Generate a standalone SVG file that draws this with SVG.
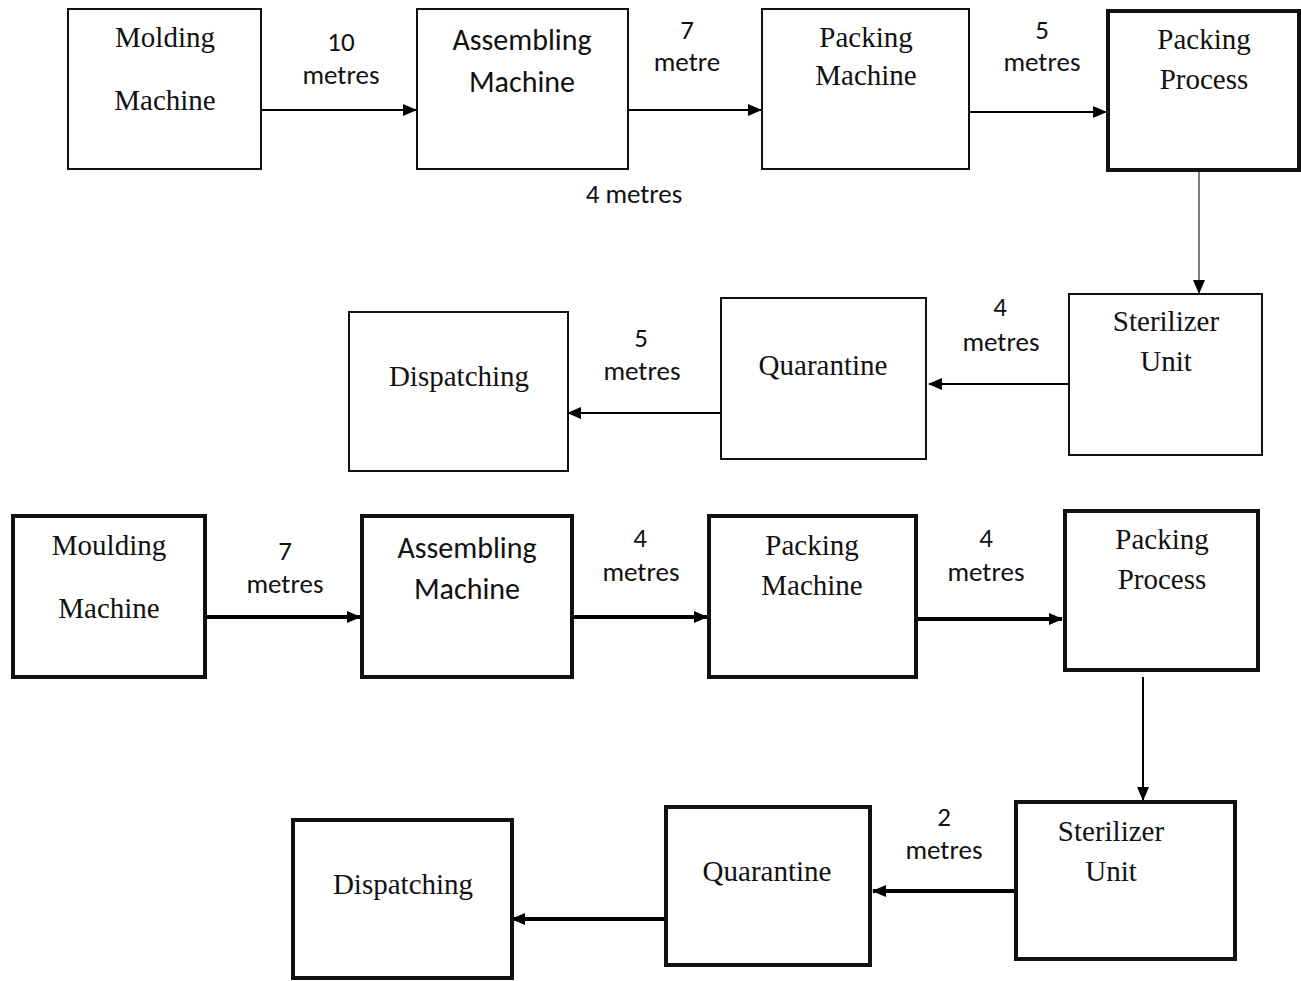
<svg xmlns="http://www.w3.org/2000/svg" width="1301" height="981" viewBox="0 0 1301 981">
<defs>
<marker id="ah" markerUnits="userSpaceOnUse" markerWidth="14" markerHeight="12" refX="13" refY="6" orient="auto">
<path d="M0,0 L14,6 L0,12 Z" fill="#000"/>
</marker>
<style>
.b{fill:#fff;stroke:#111;stroke-width:2}
.bt{fill:#fff;stroke:#111;stroke-width:4}
.s{font-family:"Times New Roman","Liberation Serif",serif;font-size:29px;fill:#111;text-anchor:middle}
.a{font-family:Calibri,"Liberation Sans",Arial,sans-serif;font-size:27px;fill:#111;text-anchor:middle}
.ab{font-family:Calibri,"Liberation Sans",Arial,sans-serif;font-size:30px;fill:#111;text-anchor:middle}
.c{fill:none;stroke:#000;stroke-width:2}
.ct{fill:none;stroke:#000;stroke-width:4}
</style>
</defs>
<rect width="1301" height="981" fill="#fff"/>
<g id="connectors">
<line class="c" x1="261" y1="110" x2="416" y2="110" marker-end="url(#ah)"/>
<line class="c" x1="628" y1="110" x2="761" y2="110" marker-end="url(#ah)"/>
<line class="c" x1="969" y1="112" x2="1106" y2="112" marker-end="url(#ah)"/>
<line x1="1199" y1="172" x2="1199" y2="293" stroke="#000" stroke-width="1" marker-end="url(#ah)"/>
<line class="c" x1="1069" y1="384" x2="929" y2="384" marker-end="url(#ah)"/>
<line class="c" x1="721" y1="413" x2="568" y2="413" marker-end="url(#ah)"/>
<line class="ct" x1="205" y1="617" x2="360" y2="617" marker-end="url(#ah)"/>
<line class="ct" x1="572" y1="617" x2="707" y2="617" marker-end="url(#ah)"/>
<line class="ct" x1="916" y1="619" x2="1062" y2="619" marker-end="url(#ah)"/>
<line x1="1143" y1="677" x2="1143" y2="800" stroke="#000" stroke-width="2" marker-end="url(#ah)"/>
<line class="ct" x1="1015" y1="891" x2="873" y2="891" marker-end="url(#ah)"/>
<line class="ct" x1="665" y1="919" x2="512" y2="919" marker-end="url(#ah)"/>
<text class="a" x="341" y="51">10</text>
<text class="a" x="341" y="84">metres</text>
<text class="a" x="687" y="39">7</text>
<text class="a" x="687" y="71">metre</text>
<text class="a" x="1042" y="39">5</text>
<text class="a" x="1042" y="71">metres</text>
<text class="a" x="634" y="203">4 metres</text>
<text class="a" x="1000" y="316">4</text>
<text class="a" x="1001" y="351">metres</text>
<text class="a" x="641" y="347">5</text>
<text class="a" x="642" y="380">metres</text>
<text class="a" x="285" y="560">7</text>
<text class="a" x="285" y="593">metres</text>
<text class="a" x="640" y="547">4</text>
<text class="a" x="641" y="581">metres</text>
<text class="a" x="986" y="547">4</text>
<text class="a" x="986" y="581">metres</text>
<text class="a" x="944" y="826">2</text>
<text class="a" x="944" y="859">metres</text>
</g>
<g id="n1"><rect class="b" x="68" y="9" width="193" height="160"/><text class="s" x="165" y="47">Molding</text><text class="s" x="165" y="110">Machine</text></g>
<g id="n2"><rect class="b" x="417" y="9" width="211" height="160"/><text class="ab" x="522" y="50">Assembling</text><text class="ab" x="522" y="92">Machine</text></g>
<g id="n3"><rect class="b" x="762" y="9" width="207" height="160"/><text class="s" x="866" y="47">Packing</text><text class="s" x="866" y="85">Machine</text></g>
<g id="n4"><rect class="bt" x="1108" y="11" width="191" height="159"/><text class="s" x="1204" y="49">Packing</text><text class="s" x="1204" y="89">Process</text></g>
<g id="n5"><rect class="b" x="1069" y="294" width="193" height="161"/><text class="s" x="1166" y="331">Sterilizer</text><text class="s" x="1166" y="371">Unit</text></g>
<g id="n6"><rect class="b" x="721" y="298" width="205" height="161"/><text class="s" x="823" y="375">Quarantine</text></g>
<g id="n7"><rect class="b" x="349" y="312" width="219" height="159"/><text class="s" x="459" y="386">Dispatching</text></g>
<g id="n8"><rect class="bt" x="13" y="516" width="192" height="161"/><text class="s" x="109" y="555">Moulding</text><text class="s" x="109" y="618">Machine</text></g>
<g id="n9"><rect class="bt" x="362" y="516" width="210" height="161"/><text class="ab" x="467" y="558">Assembling</text><text class="ab" x="467" y="599">Machine</text></g>
<g id="n10"><rect class="bt" x="709" y="516" width="207" height="161"/><text class="s" x="812" y="555">Packing</text><text class="s" x="812" y="595">Machine</text></g>
<g id="n11"><rect class="bt" x="1065" y="511" width="193" height="159"/><text class="s" x="1162" y="549">Packing</text><text class="s" x="1162" y="589">Process</text></g>
<g id="n12"><rect class="bt" x="1016" y="802" width="219" height="157"/><text class="s" x="1111" y="841">Sterilizer</text><text class="s" x="1111" y="881">Unit</text></g>
<g id="n13"><rect class="bt" x="666" y="807" width="204" height="158"/><text class="s" x="767" y="881">Quarantine</text></g>
<g id="n14"><rect class="bt" x="293" y="820" width="219" height="158"/><text class="s" x="403" y="894">Dispatching</text></g>
</svg>
